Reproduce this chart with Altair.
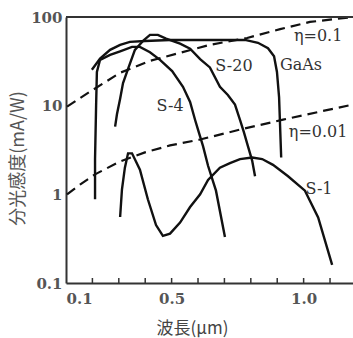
import altair as alt
import pandas as pd

# ---- data (wavelength in um, sensitivity in mA/W) ----
gaas_lam = [0.198, 0.229, 0.267, 0.305, 0.342, 0.399, 0.494, 0.608, 0.778, 0.827, 0.865, 0.888, 0.899, 0.907, 0.915]
gaas_s   = [25.4, 34.0, 42.6, 48.5, 52.4, 53.7, 55.1, 55.1, 55.1, 51.2, 44.4, 36.0, 24.0, 12.5, 2.6]

s20_lam = [0.286, 0.293, 0.305, 0.316, 0.335, 0.361, 0.395, 0.418, 0.448, 0.479, 0.532, 0.570, 0.608, 0.645, 0.683, 0.713, 0.740, 0.759, 0.774, 0.789, 0.805, 0.816]
s20_s   = [5.8, 8.0, 12.0, 18.0, 26.0, 42.6, 55.0, 62.8, 62.8, 57.0, 50.0, 44.0, 33.5, 27.0, 16.3, 13.2, 10.3, 6.9, 5.0, 3.5, 2.4, 1.6]

s4_lam = [0.210, 0.210, 0.214, 0.217, 0.229, 0.267, 0.305, 0.350, 0.380, 0.418, 0.456, 0.502, 0.543, 0.570, 0.589, 0.604, 0.619, 0.638, 0.668, 0.702]
s4_s   = [0.88, 2.5, 10.0, 24.0, 32.9, 37.4, 41.0, 46.0, 46.0, 40.0, 32.9, 24.5, 16.3, 11.0, 6.9, 4.9, 3.5, 2.1, 1.1, 0.33]

s1_lam = [0.305, 0.312, 0.323, 0.335, 0.350, 0.380, 0.410, 0.441, 0.467, 0.494, 0.532, 0.570, 0.608, 0.638, 0.683, 0.721, 0.759, 0.805, 0.843, 0.884, 0.941, 1.005, 1.055, 1.108]
s1_s   = [0.555, 1.14, 2.0, 2.9, 2.9, 1.9, 0.88, 0.45, 0.34, 0.36, 0.48, 0.72, 1.0, 1.45, 2.0, 2.25, 2.5, 2.6, 2.5, 2.15, 1.6, 1.1, 0.55, 0.16]

eta1_lam = [0.104, 0.191, 0.305, 0.418, 0.532, 0.645, 0.786, 0.911, 1.024, 1.187]
eta1_s   = [9.75, 14.4, 23.5, 32.0, 39.5, 48.5, 58.0, 73.0, 88.0, 100.0]

eta2_lam = [0.104, 0.153, 0.210, 0.305, 0.399, 0.494, 0.608, 0.759, 0.922, 1.062, 1.187]
eta2_s   = [1.0, 1.29, 1.68, 2.35, 2.97, 3.56, 4.15, 5.37, 6.96, 8.57, 10.3]

label_text = ["\u03b7=0.1", "GaAs", "S-20", "S-4", "\u03b7=0.01", "S-1"]
label_lam  = [1.055, 0.99, 0.736, 0.494, 1.055, 1.058]
label_s    = [61.2, 28.9, 28.1, 10.0, 5.1, 1.14]

x_ticks = [0.2, 0.3, 0.4, 0.5, 0.6, 0.7, 0.8, 0.9, 1.0, 1.1]
x_labels = [0.1, 0.5, 1.0]
y_labels = [0.1, 1, 10, 100]

W, H = 287, 266
SERIF = "DejaVu Serif, Liberation Serif, serif"
CJK = "Noto Sans CJK JP"

rows = []
for name, lam, s in [("GaAs", gaas_lam, gaas_s), ("S-20", s20_lam, s20_s),
                     ("S-4", s4_lam, s4_s), ("S-1", s1_lam, s1_s)]:
    for i, (a, b) in enumerate(zip(lam, s)):
        rows.append({"series": name, "lam": a, "s": b, "i": i})
solid = pd.DataFrame(rows)

rows = []
for name, lam, s in [("eta01", eta1_lam, eta1_s), ("eta001", eta2_lam, eta2_s)]:
    for i, (a, b) in enumerate(zip(lam, s)):
        rows.append({"series": name, "lam": a, "s": b, "i": i})
dashed = pd.DataFrame(rows)

labels = pd.DataFrame({"t": label_text, "lam": label_lam, "s": label_s})
ticks = pd.DataFrame({"lam": x_ticks})

xs = alt.Scale(domain=[0.1, 1.187], nice=False, zero=False)
ys = alt.Scale(type="log", domain=[0.1, 100], nice=False)

x_axis = alt.Axis(values=x_labels, labelExpr="format(datum.value, '.1f')", ticks=False,
                  grid=False, domainColor="#333", domainWidth=2,
                  labelFont=SERIF, labelFontSize=15, labelColor="#555", labelPadding=8,
                  labelFontWeight="bold",
                  title="波長(μm)", titleFont=CJK, titleFontSize=17,
                  titleFontWeight="normal", titleColor="#444",
                  titleX=126, titleY=45, titleAlign="center", titleBaseline="middle")
y_axis = alt.Axis(values=y_labels, format="~g", ticks=False, grid=False,
                  domainColor="#333", domainWidth=2,
                  labelFont=SERIF, labelFontSize=15, labelColor="#555", labelPadding=4,
                  labelFontWeight="bold",
                  title="分光感度(mA/W)", titleFont=CJK, titleFontSize=18,
                  titleFontWeight="normal", titleColor="#555",
                  titleX=-48, titleY=141, titleAngle=270, titleAlign="center", titleBaseline="middle")

base_solid = alt.Chart(solid).mark_line(color="#111", strokeWidth=2.4, clip=True).encode(
    x=alt.X("lam:Q", scale=xs, axis=x_axis),
    y=alt.Y("s:Q", scale=ys, axis=y_axis),
    detail="series:N", order="i:Q")

base_dash = alt.Chart(dashed).mark_line(color="#111", strokeWidth=2.2, strokeDash=[10, 6], clip=True).encode(
    x=alt.X("lam:Q", scale=xs), y=alt.Y("s:Q", scale=ys), detail="series:N", order="i:Q")

txt = alt.Chart(labels).mark_text(font=SERIF, fontSize=16, color="#333").encode(
    x=alt.X("lam:Q", scale=xs), y=alt.Y("s:Q", scale=ys), text="t:N")

tk = alt.Chart(ticks).mark_rule(color="#333", strokeWidth=1.5).encode(
    x=alt.X("lam:Q", scale=xs), y=alt.value(H), y2=alt.value(H - 5))

top = alt.Chart(pd.DataFrame({"k": [0]})).mark_rule(color="#333", strokeWidth=2).encode(
    x=alt.value(0), x2=alt.value(W), y=alt.value(0))

chart = alt.layer(base_solid, base_dash, txt, tk, top).properties(
    width=W, height=H,
    autosize=alt.AutoSizeParams(type="none"),
    padding={"left": 66, "top": 17, "right": 0, "bottom": 55},
    background="white",
).configure_view(stroke=None)

chart.save("out.html", embed_options={"renderer": "svg", "actions": False})
